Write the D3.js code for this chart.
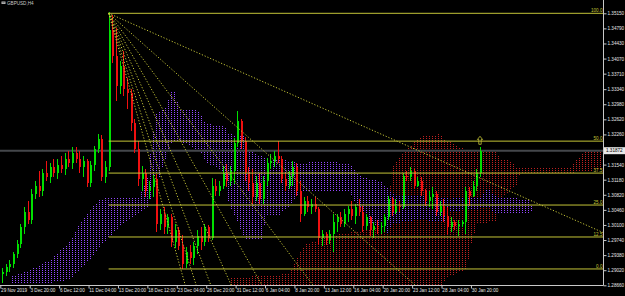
<!DOCTYPE html>
<html><head><meta charset="utf-8">
<script src="https://cdn.jsdelivr.net/npm/d3@7/dist/d3.min.js"></script>
<style>html,body{margin:0;padding:0;background:#000;overflow:hidden}</style>
</head><body><svg id="c" width="625" height="296"></svg>
<script>
const symbolTitle = "GBPUSD,H4";

const openP = [1.2893,1.2898,1.2910,1.2917,1.2941,1.2965,1.3004,1.3042,1.3023,1.3085,
1.3104,1.3090,1.3133,1.3124,1.3148,1.3133,1.3152,1.3143,1.3167,1.3157,
1.3181,1.3167,1.3148,1.3162,1.3109,1.3152,1.3191,1.3215,1.3124,1.3148,
1.3474,1.3414,1.3342,1.3390,1.3335,1.3325,1.3253,1.3191,1.3119,1.3133,
1.3090,1.3100,1.3119,1.3013,1.3037,1.3004,1.3028,1.2970,1.2999,1.2960,
1.2917,1.2946,1.2932,1.2960,1.2984,1.2970,1.3004,1.2980,1.3102,1.3090,
1.3104,1.3133,1.3114,1.3138,1.3205,1.3258,1.3210,1.3133,1.3109,1.3076,
1.3109,1.3071,1.3114,1.3157,1.3162,1.3174,1.3167,1.3119,1.3104,1.3126,
1.3148,1.3090,1.3037,1.3066,1.3054,1.3061,1.3047,1.2980,1.2989,1.2975,
1.2989,1.3018,1.3028,1.3013,1.3037,1.3047,1.3032,1.3052,1.3042,1.3008,
1.3028,1.2999,1.3008,1.3004,1.3008,1.3028,1.3071,1.3042,1.3056,1.3052,
1.3126,1.3124,1.3138,1.3104,1.3114,1.3090,1.3066,1.3076,1.3085,1.3042,
1.3056,1.3032,1.3004,1.3018,1.3008,1.3013,1.3018,1.3090,1.3080,1.3104,
1.3133];
const highP = [1.2908,1.2917,1.2927,1.2946,1.2975,1.3013,1.3054,1.3066,1.3095,1.3114,
1.3138,1.3143,1.3162,1.3157,1.3167,1.3167,1.3174,1.3181,1.3186,1.3196,
1.3196,1.3186,1.3174,1.3167,1.3162,1.3198,1.3227,1.3224,1.3162,1.3517,
1.3512,1.3481,1.3402,1.3426,1.3361,1.3335,1.3263,1.3210,1.3150,1.3143,
1.3114,1.3128,1.3131,1.3049,1.3054,1.3037,1.3035,1.3013,1.3004,1.2987,
1.2958,1.2963,1.2970,1.2999,1.3006,1.3013,1.3011,1.3121,1.3119,1.3114,
1.3150,1.3155,1.3150,1.3217,1.3282,1.3263,1.3220,1.3148,1.3143,1.3126,
1.3133,1.3126,1.3169,1.3179,1.3186,1.3210,1.3174,1.3133,1.3138,1.3162,
1.3157,1.3114,1.3076,1.3078,1.3073,1.3076,1.3052,1.2999,1.2994,1.2999,
1.3035,1.3037,1.3042,1.3047,1.3056,1.3066,1.3059,1.3071,1.3056,1.3037,
1.3032,1.3018,1.3023,1.3016,1.3037,1.3078,1.3076,1.3071,1.3066,1.3133,
1.3138,1.3148,1.3143,1.3124,1.3124,1.3095,1.3090,1.3100,1.3090,1.3066,
1.3071,1.3052,1.3028,1.3023,1.3023,1.3023,1.3100,1.3100,1.3114,1.3143,
1.3196];
const lowP = [1.2872,1.2888,1.2898,1.2908,1.2932,1.2956,1.2989,1.3013,1.3013,1.3071,
1.3076,1.3080,1.3114,1.3109,1.3124,1.3119,1.3133,1.3128,1.3148,1.3143,
1.3157,1.3133,1.3124,1.3100,1.3100,1.3138,1.3181,1.3114,1.3109,1.3138,
1.3397,1.3306,1.3323,1.3318,1.3287,1.3234,1.3181,1.3102,1.3090,1.3076,
1.3071,1.3076,1.2994,1.2999,1.2989,1.2989,1.2958,1.2956,1.2951,1.2905,
1.2908,1.2917,1.2915,1.2941,1.2951,1.2960,1.2970,1.2975,1.3078,1.3080,
1.3095,1.3100,1.3104,1.3107,1.3196,1.3191,1.3114,1.3090,1.3059,1.3066,
1.3059,1.3059,1.3104,1.3143,1.3148,1.3157,1.3109,1.3090,1.3095,1.3104,
1.3080,1.3018,1.3032,1.3042,1.3037,1.3042,1.2963,1.2960,1.2963,1.2965,
1.2946,1.2994,1.3004,1.3004,1.3018,1.3023,1.3013,1.3032,1.2994,1.2999,
1.2984,1.2980,1.2989,1.2989,1.2994,1.3023,1.3032,1.3037,1.3042,1.3047,
1.3114,1.3114,1.3095,1.3100,1.3080,1.3056,1.3052,1.3047,1.3032,1.3032,
1.3018,1.2989,1.2994,1.2999,1.2984,1.3004,1.2989,1.3056,1.3076,1.3090,
1.3124];
const closeP = [1.2898,1.2910,1.2917,1.2941,1.2965,1.3004,1.3042,1.3023,1.3085,1.3104,
1.3090,1.3133,1.3124,1.3148,1.3133,1.3152,1.3143,1.3167,1.3157,1.3181,
1.3167,1.3148,1.3162,1.3109,1.3152,1.3191,1.3215,1.3124,1.3148,1.3474,
1.3414,1.3342,1.3390,1.3335,1.3325,1.3253,1.3191,1.3119,1.3133,1.3090,
1.3100,1.3119,1.3013,1.3037,1.3004,1.3028,1.2970,1.2999,1.2960,1.2917,
1.2946,1.2932,1.2960,1.2984,1.2970,1.3004,1.2980,1.3102,1.3090,1.3104,
1.3133,1.3114,1.3138,1.3205,1.3258,1.3210,1.3133,1.3109,1.3076,1.3109,
1.3071,1.3114,1.3157,1.3162,1.3174,1.3167,1.3119,1.3104,1.3126,1.3148,
1.3090,1.3037,1.3066,1.3054,1.3061,1.3047,1.2980,1.2989,1.2975,1.2989,
1.3018,1.3028,1.3013,1.3037,1.3047,1.3032,1.3052,1.3042,1.3008,1.3028,
1.2999,1.3008,1.3004,1.3008,1.3028,1.3071,1.3042,1.3056,1.3052,1.3126,
1.3124,1.3138,1.3104,1.3114,1.3090,1.3066,1.3076,1.3085,1.3042,1.3056,
1.3032,1.3004,1.3018,1.3008,1.3013,1.3018,1.3090,1.3080,1.3104,1.3133,
1.3186];

const timeLabels = ["29 Nov 2019","3 Dec 20:00","6 Dec 12:00","11 Dec 04:00","13 Dec 20:00","18 Dec 12:00","23 Dec 04:00","26 Dec 20:00","31 Dec 12:00","6 Jan 04:00","8 Jan 20:00","13 Jan 12:00","16 Jan 04:00","20 Jan 20:00","23 Jan 12:00","28 Jan 04:00","30 Jan 20:00"];
const timeLabelIdx = [0,8,16,24,32,40,48,56,64,72,80,88,96,104,112,120,128];
const priceTicks = [1.35150,1.34790,1.34430,1.34070,1.33710,1.33340,1.32980,1.32620,1.32260,1.31540,1.31180,1.30820,1.30460,1.30100,1.29740,1.29380,1.29020,1.28660];
const lastPrice = 1.31872;
const lastPriceText = "1.31872";

const fibAnchorIdx = 29;
const fibHigh = 1.3515, fibLow = 1.2905;
const fibLevels = [0, 0.125, 0.25, 0.375, 0.5, 1];
const fibLabels = ["0.0","12.5","25.0","37.5","50.0","100.0"];

const fanStart = [29, 1.3515];
const fanEnd = [48.6, 1.2905];
const fanRatios = [0.125,0.25,0.375,0.5,0.625,0.75,0.875,1];

const fractalIdx = [130];
const fractalPrice = [1.3212];

const purpleIdx = [2.2,7.6,13.1,18.5,21.2,23.9,26.7,29.4,32.1,34.8,37.5,39.7,40.8,41.9,44.3,45.7,46.5,47.3,48.4,53.8,55.2,60.6,61.5,66.1,67.4,70.7,71.8,75.6,78.3,81.0,86.5,94.6,97.4,100.1,102.8,104.7,106.1,113.7,120.5,121.8,130.0,132.2,134.1,143.1,144.1];
const purpleTop = [1.2886,1.2903,1.2927,1.2970,1.3013,1.3047,1.3071,1.3076,1.3076,1.3076,1.3078,1.3126,1.3210,1.3277,1.3287,1.3318,1.3342,1.3318,1.3287,1.3282,1.3253,1.3244,1.3227,1.3222,1.3186,1.3174,1.3169,1.3167,1.3162,1.3157,1.3162,1.3157,1.3126,1.3119,1.3114,1.3102,1.3083,1.3080,1.3076,1.3073,1.3076,1.3100,1.3078,1.3071,1.3054];
const purpleBot = [1.2869,1.2869,1.2872,1.2879,1.2903,1.2927,1.2958,1.2982,1.3006,1.3023,1.3037,1.3054,1.3078,1.3102,1.3162,1.3198,1.3210,1.3210,1.3210,1.3186,1.3162,1.3133,1.3066,1.2977,1.2977,1.2977,1.3030,1.3035,1.3054,1.3090,1.3090,1.3090,1.3042,1.3013,1.3006,1.2987,1.3013,1.3023,1.3016,1.3042,1.3049,1.3054,1.3037,1.3037,1.3042];

const redIdx = [62.0,70.2,78.3,81.0,82.4,86.5,91.9,100.1,104.2,106.3,109.6,113.7,119.1,121.0,123.2,126.5,127.3,129.2,134.6,135.4,138.7,140.1,140.9,154.5,158.6,163.5];
const redTop = [1.2884,1.2888,1.2893,1.2946,1.2963,1.2977,1.2989,1.2999,1.3006,1.3150,1.3186,1.3220,1.3227,1.3210,1.3203,1.3186,1.3186,1.3186,1.3186,1.3167,1.3162,1.3145,1.3145,1.3148,1.3186,1.3193];
const redBot = [1.2850,1.2850,1.2850,1.2850,1.2850,1.2850,1.2850,1.2850,1.2850,1.2850,1.2850,1.2850,1.2850,1.2886,1.2893,1.2903,1.2951,1.3013,1.3018,1.3066,1.3097,1.3107,1.3133,1.3133,1.3138,1.3143];

const W = 625, H = 296, PR = 603, PB = 285;
const svg = d3.select("#c");
svg.append("rect").attr("width", W).attr("height", H).attr("fill", "#000");

const x = d3.scaleLinear().domain([0, 130]).range([2, 480]);
const y = d3.scaleLinear().domain([1.3515, 1.2866]).range([13.3, 285.3]);

const defs = svg.append("defs");
defs.append("clipPath").attr("id", "plot").append("rect").attr("x", 0).attr("y", 0).attr("width", PR).attr("height", PB);
function dotPattern(id, color) {
  const p = defs.append("pattern").attr("id", id).attr("patternUnits", "userSpaceOnUse").attr("width", 3).attr("height", 2);
  p.append("rect").attr("x", 0).attr("y", 0).attr("width", 1).attr("height", 1).attr("fill", color);
}
dotPattern("purpleDots", "#9448ff");
dotPattern("redDots", "#c02020");

const g = svg.append("g").attr("clip-path", "url(#plot)");

function cloud(idx, top, bot, fillId) {
  const data = idx.map((d, i) => ({ i: d, t: top[i], b: bot[i] }));
  const area = d3.area().x(d => x(d.i)).y0(d => y(d.b)).y1(d => y(d.t));
  g.append("path").datum(data).attr("d", area).attr("fill", `url(#${fillId})`).attr("shape-rendering", "crispEdges");
}
cloud(redIdx, redTop, redBot, "redDots");
cloud(purpleIdx, purpleTop, purpleBot, "purpleDots");

// current price line
g.append("line").attr("x1", 0).attr("x2", PR).attr("y1", y(lastPrice)).attr("y2", y(lastPrice))
  .attr("stroke", "#44474b").attr("stroke-width", 2);

// candles
const candles = g.append("g").attr("shape-rendering", "crispEdges");
closeP.forEach((c, i) => {
  const o = openP[i], up = c >= o;
  const col = up ? "#00e000" : "#f01010";
  const cx = Math.round(x(i));
  candles.append("line").attr("x1", cx + 0.5).attr("x2", cx + 0.5)
    .attr("y1", y(highP[i])).attr("y2", y(lowP[i])).attr("stroke", col).attr("stroke-width", 1);
  const yt = y(Math.max(o, c)), yb = y(Math.min(o, c));
  candles.append("rect").attr("x", cx - 0.5).attr("width", 2)
    .attr("y", yt).attr("height", Math.max(1, yb - yt)).attr("fill", col);
});

// fib levels
const fibColor = "#c4c437";
const fx0 = x(fibAnchorIdx);
fibLevels.forEach((lv, k) => {
  const py = y(fibLow + lv * (fibHigh - fibLow));
  g.append("line").attr("x1", fx0).attr("x2", PR).attr("y1", py).attr("y2", py)
    .attr("stroke", fibColor).attr("stroke-width", 1);
  svg.append("text").attr("x", PR - 0.5).attr("y", py - 1).attr("text-anchor", "end")
    .attr("font-family", "Liberation Sans, Arial, sans-serif").attr("font-size", 4.6)
    .attr("fill", fibColor).text(fibLabels[k]);
});

// fan lines
const ax = x(fanStart[0]), ay = y(fanStart[1]);
const bx = x(fanEnd[0]);
fanRatios.forEach(r => {
  const by = y(fanStart[1] - r * (fanStart[1] - fanEnd[1]));
  const slope = (by - ay) / (bx - ax);
  const ex = PR, ey = ay + slope * (ex - ax);
  g.append("line").attr("x1", ax).attr("y1", ay).attr("x2", ex).attr("y2", ey)
    .attr("stroke", fibColor).attr("stroke-width", 1).attr("stroke-dasharray", "1.2,1.8");
});

// fractal marker
fractalIdx.forEach((fi, k) => {
  const mx = x(fi), my = y(fractalPrice[k]);
  g.append("path").attr("transform", `translate(${mx},${my})`)
    .attr("d", "M0,-4 L2.6,-0.8 L1.2,-0.8 L1.2,4 L-1.2,4 L-1.2,-0.8 L-2.6,-0.8 Z")
    .attr("fill", "none").attr("stroke", fibColor).attr("stroke-width", 0.8);
});

// axes
const axisColor = "#c8c8c8";
svg.append("line").attr("x1", PR + 0.5).attr("x2", PR + 0.5).attr("y1", 0).attr("y2", PB + 0.5)
  .attr("stroke", axisColor).attr("stroke-width", 1);
svg.append("line").attr("x1", 0).attr("x2", PR + 0.5).attr("y1", PB + 0.5).attr("y2", PB + 0.5)
  .attr("stroke", axisColor).attr("stroke-width", 1);

const yAxis = d3.axisRight(y).tickValues(priceTicks).tickSize(3).tickSizeOuter(0).tickPadding(1)
  .tickFormat(d3.format(".5f"));
const ya = svg.append("g").attr("transform", `translate(${PR + 0.5},0)`).call(yAxis);
ya.select(".domain").remove();
ya.selectAll("line").attr("stroke", axisColor);
ya.selectAll("text").attr("font-family", "Liberation Sans, Arial, sans-serif").attr("font-size", 4.6).attr("fill", "#e6e6e6");

const xAxis = d3.axisBottom(x).tickValues(timeLabelIdx).tickSize(3).tickSizeOuter(0)
  .tickFormat((d, i) => timeLabels[i]);
const xa = svg.append("g").attr("transform", `translate(-1.7,${PB + 0.5})`).call(xAxis);
xa.select(".domain").remove();
xa.selectAll("line").attr("stroke", axisColor);
xa.selectAll("text").attr("text-anchor", "start").attr("dx", "0.3").attr("dy", "0").attr("y", 6.5)
  .attr("font-family", "Liberation Sans, Arial, sans-serif").attr("font-size", 4.6).attr("fill", "#e6e6e6");

// last price box
const ly = y(lastPrice);
svg.append("rect").attr("x", PR + 1).attr("y", ly - 3.5).attr("width", 21).attr("height", 7).attr("fill", "#e8e8e8");
svg.append("text").attr("x", PR + 3).attr("y", ly + 1.6).attr("font-family", "Liberation Sans, Arial, sans-serif")
  .attr("font-size", 4.6).attr("fill", "#000").text(lastPriceText);

// title
svg.append("rect").attr("x", 1.5).attr("y", 1.5).attr("width", 4).attr("height", 2.5).attr("fill", "#bfbfbf");
svg.append("line").attr("x1", 2.3).attr("x2", 4.7).attr("y1", 2.75).attr("y2", 2.75).attr("stroke", "#333").attr("stroke-width", 0.6);
svg.append("text").attr("x", 7).attr("y", 4.6).attr("font-family", "Liberation Sans, Arial, sans-serif")
  .attr("font-size", 4.6).attr("fill", "#c8c8c8").text(symbolTitle);
</script></body></html>
